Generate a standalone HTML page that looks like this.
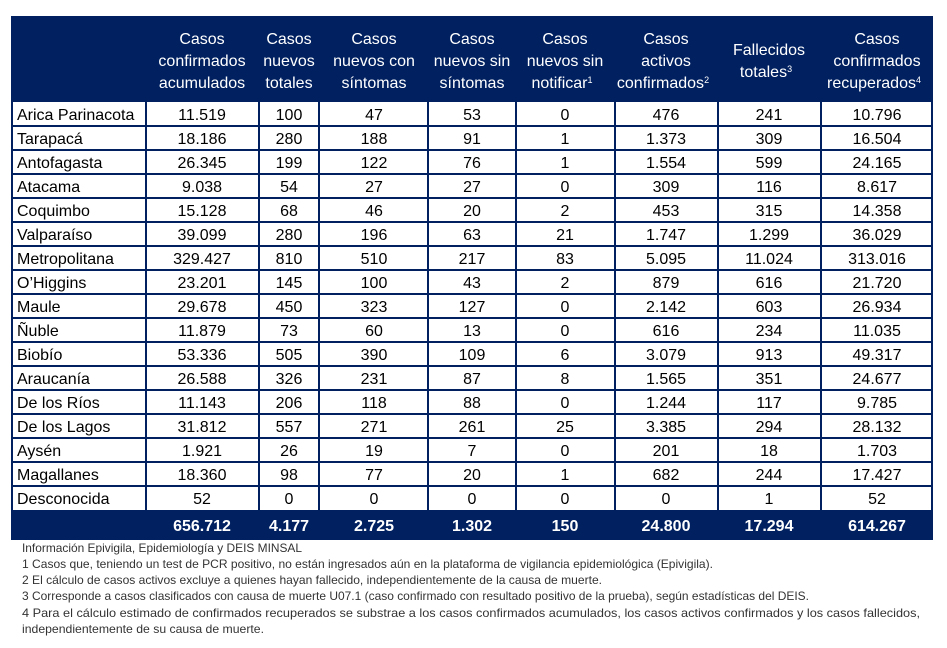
<!DOCTYPE html>
<html><head><meta charset="utf-8"><style>
html,body{margin:0;padding:0;background:#fff;}
svg{display:block;font-family:"Liberation Sans",sans-serif;}
</style></head><body>
<svg width="947" height="648" viewBox="0 0 947 648">
<rect x="11" y="16" width="922" height="86" fill="#002060"/>
<rect x="11" y="102" width="922" height="408" fill="#fff"/>
<rect x="11" y="510" width="922" height="30" fill="#002060"/>
<g stroke="#002060" stroke-width="2">
<line x1="12" y1="102" x2="12" y2="510"/>
<line x1="932" y1="102" x2="932" y2="510"/>
<line x1="146" y1="102" x2="146" y2="510"/>
<line x1="259" y1="102" x2="259" y2="510"/>
<line x1="319" y1="102" x2="319" y2="510"/>
<line x1="428" y1="102" x2="428" y2="510"/>
<line x1="516" y1="102" x2="516" y2="510"/>
<line x1="615" y1="102" x2="615" y2="510"/>
<line x1="718" y1="102" x2="718" y2="510"/>
<line x1="821" y1="102" x2="821" y2="510"/>
<line x1="11" y1="126" x2="933" y2="126"/><line x1="11" y1="150" x2="933" y2="150"/>
<line x1="11" y1="174" x2="933" y2="174"/><line x1="11" y1="198" x2="933" y2="198"/>
<line x1="11" y1="222" x2="933" y2="222"/><line x1="11" y1="246" x2="933" y2="246"/>
<line x1="11" y1="270" x2="933" y2="270"/><line x1="11" y1="294" x2="933" y2="294"/>
<line x1="11" y1="318" x2="933" y2="318"/><line x1="11" y1="342" x2="933" y2="342"/>
<line x1="11" y1="366" x2="933" y2="366"/><line x1="11" y1="390" x2="933" y2="390"/>
<line x1="11" y1="414" x2="933" y2="414"/><line x1="11" y1="438" x2="933" y2="438"/>
<line x1="11" y1="462" x2="933" y2="462"/><line x1="11" y1="486" x2="933" y2="486"/>
</g>
<g fill="#fff" font-size="16" text-anchor="middle">
<text x="202" y="44">Casos</text><text x="202" y="66">confirmados</text><text x="202" y="88">acumulados</text>
<text x="289" y="44">Casos</text><text x="289" y="66">nuevos</text><text x="289" y="88">totales</text>
<text x="374" y="44">Casos</text><text x="374" y="66">nuevos con</text><text x="374" y="88">síntomas</text>
<text x="472" y="44">Casos</text><text x="472" y="66">nuevos sin</text><text x="472" y="88">síntomas</text>
<text x="565" y="44">Casos</text><text x="565" y="66">nuevos sin</text><text x="562" y="88">notificar<tspan font-size="9" dy="-5">1</tspan></text>
<text x="666" y="44">Casos</text><text x="666" y="66">activos</text><text x="663" y="88">confirmados<tspan font-size="9" dy="-5">2</tspan></text>
<text x="769" y="55">Fallecidos</text><text x="766" y="77">totales<tspan font-size="9" dy="-5">3</tspan></text>
<text x="877" y="44">Casos</text><text x="877" y="66">confirmados</text><text x="874" y="88">recuperados<tspan font-size="9" dy="-5">4</tspan></text>
</g>
<g font-size="16" fill="#000">
<text x="17" y="120">Arica Parinacota</text><text x="17" y="144">Tarapacá</text><text x="17" y="168">Antofagasta</text>
<text x="17" y="192">Atacama</text><text x="17" y="216">Coquimbo</text><text x="17" y="240">Valparaíso</text>
<text x="17" y="264">Metropolitana</text><text x="17" y="288">O’Higgins</text><text x="17" y="312">Maule</text>
<text x="17" y="336">Ñuble</text><text x="17" y="360">Biobío</text><text x="17" y="384">Araucanía</text>
<text x="17" y="408">De los Ríos</text><text x="17" y="432">De los Lagos</text><text x="17" y="456">Aysén</text>
<text x="17" y="480">Magallanes</text><text x="17" y="504">Desconocida</text>
</g>
<g font-size="16" font-weight="bold" fill="#fff" text-anchor="middle">
<text x="202" y="531">656.712</text><text x="289" y="531">4.177</text><text x="374" y="531">2.725</text>
<text x="472" y="531">1.302</text><text x="565" y="531">150</text><text x="666" y="531">24.800</text>
<text x="769" y="531">17.294</text><text x="877" y="531">614.267</text>
</g>
<g font-size="12" fill="#333">
<text x="22" y="552" textLength="280" lengthAdjust="spacingAndGlyphs">Información Epivigila, Epidemiología y DEIS MINSAL</text>
<text x="22" y="568" textLength="691" lengthAdjust="spacingAndGlyphs">1 Casos que, teniendo un test de PCR positivo, no están ingresados aún en la plataforma de vigilancia epidemiológica (Epivigila).</text>
<text x="22" y="584" textLength="580" lengthAdjust="spacingAndGlyphs">2 El cálculo de casos activos excluye a quienes hayan fallecido, independientemente de la causa de muerte.</text>
<text x="22" y="600" textLength="787" lengthAdjust="spacingAndGlyphs">3 Corresponde a casos clasificados con causa de muerte U07.1 (caso confirmado con resultado positivo de la prueba), según estadísticas del DEIS.</text>
<text x="22" y="617" textLength="898" lengthAdjust="spacingAndGlyphs">4 Para el cálculo estimado de confirmados recuperados se substrae a los casos confirmados acumulados, los casos activos confirmados y los casos fallecidos,</text>
<text x="22" y="633" textLength="242" lengthAdjust="spacingAndGlyphs">independientemente de su causa de muerte.</text>
</g>
<g font-size="16" fill="#000" text-anchor="middle">
<text y="120"><tspan x="202">11.519</tspan><tspan x="289">100</tspan><tspan x="374">47</tspan><tspan x="472">53</tspan><tspan x="565">0</tspan><tspan x="666">476</tspan><tspan x="769">241</tspan><tspan x="877">10.796</tspan></text>
<text y="144"><tspan x="202">18.186</tspan><tspan x="289">280</tspan><tspan x="374">188</tspan><tspan x="472">91</tspan><tspan x="565">1</tspan><tspan x="666">1.373</tspan><tspan x="769">309</tspan><tspan x="877">16.504</tspan></text>
<text y="168"><tspan x="202">26.345</tspan><tspan x="289">199</tspan><tspan x="374">122</tspan><tspan x="472">76</tspan><tspan x="565">1</tspan><tspan x="666">1.554</tspan><tspan x="769">599</tspan><tspan x="877">24.165</tspan></text>
<text y="192"><tspan x="202">9.038</tspan><tspan x="289">54</tspan><tspan x="374">27</tspan><tspan x="472">27</tspan><tspan x="565">0</tspan><tspan x="666">309</tspan><tspan x="769">116</tspan><tspan x="877">8.617</tspan></text>
<text y="216"><tspan x="202">15.128</tspan><tspan x="289">68</tspan><tspan x="374">46</tspan><tspan x="472">20</tspan><tspan x="565">2</tspan><tspan x="666">453</tspan><tspan x="769">315</tspan><tspan x="877">14.358</tspan></text>
<text y="240"><tspan x="202">39.099</tspan><tspan x="289">280</tspan><tspan x="374">196</tspan><tspan x="472">63</tspan><tspan x="565">21</tspan><tspan x="666">1.747</tspan><tspan x="769">1.299</tspan><tspan x="877">36.029</tspan></text>
<text y="264"><tspan x="202">329.427</tspan><tspan x="289">810</tspan><tspan x="374">510</tspan><tspan x="472">217</tspan><tspan x="565">83</tspan><tspan x="666">5.095</tspan><tspan x="769">11.024</tspan><tspan x="877">313.016</tspan></text>
<text y="288"><tspan x="202">23.201</tspan><tspan x="289">145</tspan><tspan x="374">100</tspan><tspan x="472">43</tspan><tspan x="565">2</tspan><tspan x="666">879</tspan><tspan x="769">616</tspan><tspan x="877">21.720</tspan></text>
<text y="312"><tspan x="202">29.678</tspan><tspan x="289">450</tspan><tspan x="374">323</tspan><tspan x="472">127</tspan><tspan x="565">0</tspan><tspan x="666">2.142</tspan><tspan x="769">603</tspan><tspan x="877">26.934</tspan></text>
<text y="336"><tspan x="202">11.879</tspan><tspan x="289">73</tspan><tspan x="374">60</tspan><tspan x="472">13</tspan><tspan x="565">0</tspan><tspan x="666">616</tspan><tspan x="769">234</tspan><tspan x="877">11.035</tspan></text>
<text y="360"><tspan x="202">53.336</tspan><tspan x="289">505</tspan><tspan x="374">390</tspan><tspan x="472">109</tspan><tspan x="565">6</tspan><tspan x="666">3.079</tspan><tspan x="769">913</tspan><tspan x="877">49.317</tspan></text>
<text y="384"><tspan x="202">26.588</tspan><tspan x="289">326</tspan><tspan x="374">231</tspan><tspan x="472">87</tspan><tspan x="565">8</tspan><tspan x="666">1.565</tspan><tspan x="769">351</tspan><tspan x="877">24.677</tspan></text>
<text y="408"><tspan x="202">11.143</tspan><tspan x="289">206</tspan><tspan x="374">118</tspan><tspan x="472">88</tspan><tspan x="565">0</tspan><tspan x="666">1.244</tspan><tspan x="769">117</tspan><tspan x="877">9.785</tspan></text>
<text y="432"><tspan x="202">31.812</tspan><tspan x="289">557</tspan><tspan x="374">271</tspan><tspan x="472">261</tspan><tspan x="565">25</tspan><tspan x="666">3.385</tspan><tspan x="769">294</tspan><tspan x="877">28.132</tspan></text>
<text y="456"><tspan x="202">1.921</tspan><tspan x="289">26</tspan><tspan x="374">19</tspan><tspan x="472">7</tspan><tspan x="565">0</tspan><tspan x="666">201</tspan><tspan x="769">18</tspan><tspan x="877">1.703</tspan></text>
<text y="480"><tspan x="202">18.360</tspan><tspan x="289">98</tspan><tspan x="374">77</tspan><tspan x="472">20</tspan><tspan x="565">1</tspan><tspan x="666">682</tspan><tspan x="769">244</tspan><tspan x="877">17.427</tspan></text>
<text y="504"><tspan x="202">52</tspan><tspan x="289">0</tspan><tspan x="374">0</tspan><tspan x="472">0</tspan><tspan x="565">0</tspan><tspan x="666">0</tspan><tspan x="769">1</tspan><tspan x="877">52</tspan></text>
</g>
</svg>
</body></html>
